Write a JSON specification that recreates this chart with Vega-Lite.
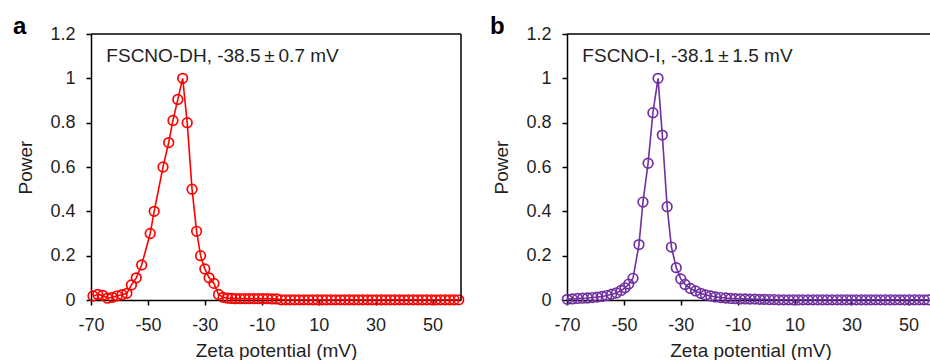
{
  "$schema": "https://vega.github.io/schema/vega-lite/v6.json",
  "background": "white",
  "padding": {"left": 12, "top": 15, "right": 0, "bottom": 0},
  "spacing": 22,
  "config": {
    "font": "Liberation Sans",
    "view": {"stroke": null},
    "axis": {
      "grid": false,
      "domainColor": "black",
      "domainWidth": 1.5,
      "tickColor": "black",
      "tickWidth": 1.5,
      "tickSize": 5,
      "labelFont": "Liberation Sans",
      "labelFontSize": 18,
      "labelColor": "#1f1f1f",
      "labelPadding": 11,
      "labelFlush": false,
      "labelOverlap": false,
      "labelExpr": "replace(datum.label, '\u2212', '-')",
      "titleFont": "Liberation Sans",
      "titleFontSize": 19,
      "titleFontWeight": "normal",
      "titleColor": "#1f1f1f"
    },
    "axisX": {"titlePadding": 7},
    "axisY": {"titlePadding": 14}
  },
  "datasets": {
    "a": [
      {"zeta": -69.3, "power": 0.018}, {"zeta": -67.6, "power": 0.025}, {"zeta": -65.9, "power": 0.021},
      {"zeta": -64.2, "power": 0.008}, {"zeta": -62.5, "power": 0.012}, {"zeta": -60.8, "power": 0.019},
      {"zeta": -59.1, "power": 0.024}, {"zeta": -57.4, "power": 0.03}, {"zeta": -55.8, "power": 0.068},
      {"zeta": -54.1, "power": 0.1}, {"zeta": -52.2, "power": 0.158}, {"zeta": -49.2, "power": 0.3},
      {"zeta": -47.8, "power": 0.4}, {"zeta": -44.7, "power": 0.6}, {"zeta": -42.7, "power": 0.71},
      {"zeta": -41.2, "power": 0.81}, {"zeta": -39.5, "power": 0.905}, {"zeta": -37.8, "power": 1.0},
      {"zeta": -36.2, "power": 0.8}, {"zeta": -34.5, "power": 0.5}, {"zeta": -32.9, "power": 0.31},
      {"zeta": -31.5, "power": 0.2}, {"zeta": -30.0, "power": 0.14}, {"zeta": -28.5, "power": 0.1},
      {"zeta": -26.8, "power": 0.075}, {"zeta": -25.2, "power": 0.025}, {"zeta": -23.6, "power": 0.012},
      {"zeta": -22.0, "power": 0.008}, {"zeta": -20.6, "power": 0.007}, {"zeta": -19.2, "power": 0.006},
      {"zeta": -17.6, "power": 0.006}, {"zeta": -16.0, "power": 0.006}, {"zeta": -14.4, "power": 0.006},
      {"zeta": -12.8, "power": 0.006}, {"zeta": -11.2, "power": 0.006}, {"zeta": -9.6, "power": 0.006},
      {"zeta": -8.0, "power": 0.006}, {"zeta": -6.4, "power": 0.005}, {"zeta": -4.8, "power": 0.005},
      {"zeta": -3.2, "power": 0.001}, {"zeta": -1.6, "power": 0.001}, {"zeta": 0.0, "power": 0.001},
      {"zeta": 1.6, "power": 0.001}, {"zeta": 3.2, "power": 0.001}, {"zeta": 4.8, "power": 0.001},
      {"zeta": 6.4, "power": 0.001}, {"zeta": 8.0, "power": 0.001}, {"zeta": 9.6, "power": 0.001},
      {"zeta": 11.2, "power": 0.001}, {"zeta": 12.8, "power": 0.001}, {"zeta": 14.4, "power": 0.001},
      {"zeta": 16.0, "power": 0.001}, {"zeta": 17.6, "power": 0.001}, {"zeta": 19.2, "power": 0.001},
      {"zeta": 20.8, "power": 0.001}, {"zeta": 22.4, "power": 0.001}, {"zeta": 24.0, "power": 0.001},
      {"zeta": 25.6, "power": 0.001}, {"zeta": 27.2, "power": 0.001}, {"zeta": 28.8, "power": 0.001},
      {"zeta": 30.4, "power": 0.001}, {"zeta": 32.0, "power": 0.001}, {"zeta": 33.6, "power": 0.001},
      {"zeta": 35.2, "power": 0.001}, {"zeta": 36.8, "power": 0.001}, {"zeta": 38.4, "power": 0.001},
      {"zeta": 40.0, "power": 0.001}, {"zeta": 41.6, "power": 0.001}, {"zeta": 43.2, "power": 0.001},
      {"zeta": 44.8, "power": 0.001}, {"zeta": 46.4, "power": 0.001}, {"zeta": 48.0, "power": 0.001},
      {"zeta": 49.6, "power": 0.001}, {"zeta": 51.2, "power": 0.001}, {"zeta": 52.8, "power": 0.001},
      {"zeta": 54.4, "power": 0.001}, {"zeta": 56.0, "power": 0.001}, {"zeta": 57.6, "power": 0.001},
      {"zeta": 59.2, "power": 0.001}
    ],
    "b": [
      {"zeta": -69.9, "power": 0.003}, {"zeta": -68.1, "power": 0.005}, {"zeta": -66.3, "power": 0.007},
      {"zeta": -64.5, "power": 0.008}, {"zeta": -62.8, "power": 0.009}, {"zeta": -61.1, "power": 0.011},
      {"zeta": -59.4, "power": 0.013}, {"zeta": -57.7, "power": 0.016}, {"zeta": -56.0, "power": 0.02},
      {"zeta": -54.3, "power": 0.026}, {"zeta": -52.6, "power": 0.032}, {"zeta": -51.0, "power": 0.043},
      {"zeta": -49.6, "power": 0.055}, {"zeta": -48.3, "power": 0.072}, {"zeta": -46.8, "power": 0.098},
      {"zeta": -44.7, "power": 0.25}, {"zeta": -43.3, "power": 0.442}, {"zeta": -41.5, "power": 0.617},
      {"zeta": -39.8, "power": 0.845}, {"zeta": -38.0, "power": 1.0}, {"zeta": -36.5, "power": 0.744},
      {"zeta": -34.8, "power": 0.421}, {"zeta": -33.3, "power": 0.239}, {"zeta": -31.6, "power": 0.146},
      {"zeta": -30.0, "power": 0.095}, {"zeta": -28.5, "power": 0.07}, {"zeta": -26.6, "power": 0.052},
      {"zeta": -24.8, "power": 0.041}, {"zeta": -23.0, "power": 0.03}, {"zeta": -21.3, "power": 0.023},
      {"zeta": -19.5, "power": 0.018}, {"zeta": -17.8, "power": 0.014}, {"zeta": -16.0, "power": 0.011},
      {"zeta": -14.2, "power": 0.009}, {"zeta": -12.5, "power": 0.007}, {"zeta": -10.8, "power": 0.006},
      {"zeta": -9.1, "power": 0.005}, {"zeta": -7.4, "power": 0.005}, {"zeta": -5.7, "power": 0.004},
      {"zeta": -4.0, "power": 0.004}, {"zeta": -2.3, "power": 0.003}, {"zeta": -0.6, "power": 0.003},
      {"zeta": 1.1, "power": 0.002}, {"zeta": 2.8, "power": 0.002}, {"zeta": 4.5, "power": 0.001},
      {"zeta": 6.2, "power": 0.001}, {"zeta": 7.9, "power": 0.001}, {"zeta": 9.6, "power": 0.001},
      {"zeta": 11.3, "power": 0.001}, {"zeta": 13.0, "power": 0.001}, {"zeta": 14.7, "power": 0.001},
      {"zeta": 16.4, "power": 0.001}, {"zeta": 18.1, "power": 0.001}, {"zeta": 19.8, "power": 0.001},
      {"zeta": 21.5, "power": 0.001}, {"zeta": 23.2, "power": 0.001}, {"zeta": 24.9, "power": 0.001},
      {"zeta": 26.6, "power": 0.001}, {"zeta": 28.3, "power": 0.001}, {"zeta": 30.0, "power": 0.001},
      {"zeta": 31.7, "power": 0.001}, {"zeta": 33.4, "power": 0.001}, {"zeta": 35.1, "power": 0.001},
      {"zeta": 36.8, "power": 0.001}, {"zeta": 38.5, "power": 0.001}, {"zeta": 40.2, "power": 0.001},
      {"zeta": 41.9, "power": 0.001}, {"zeta": 43.6, "power": 0.001}, {"zeta": 45.3, "power": 0.001},
      {"zeta": 47.0, "power": 0.001}, {"zeta": 48.7, "power": 0.001}, {"zeta": 50.4, "power": 0.001},
      {"zeta": 52.1, "power": 0.001}, {"zeta": 53.8, "power": 0.001}, {"zeta": 55.5, "power": 0.001},
      {"zeta": 57.0, "power": 0.001}
    ]
  },
  "hconcat": [
    {
      "width": 370,
      "height": 266,
      "title": {"text": "a", "anchor": "start", "frame": "bounds", "fontSize": 24, "fontWeight": "bold", "color": "black", "dx": -4, "offset": -14},
      "layer": [
        {
          "data": {"name": "a"},
          "mark": {"type": "line", "color": "#FF0000", "strokeWidth": 1.6},
          "encoding": {
            "x": {"field": "zeta", "type": "quantitative", "scale": {"domain": [-70, 60], "nice": false, "zero": false},
                  "axis": {"values": [-70, -50, -30, -10, 10, 30, 50], "title": "Zeta potential (mV)"}},
            "y": {"field": "power", "type": "quantitative", "scale": {"domain": [0, 1.2], "nice": false},
                  "axis": {"values": [0, 0.2, 0.4, 0.6, 0.8, 1, 1.2], "format": ".1~f", "title": "Power"}}
          }
        },
        {
          "data": {"name": "a"},
          "mark": {"type": "point", "shape": "circle", "filled": false, "color": "#FF0000", "size": 92, "strokeWidth": 1.7, "opacity": 1},
          "encoding": {
            "x": {"field": "zeta", "type": "quantitative"},
            "y": {"field": "power", "type": "quantitative"}
          }
        },
        {
          "data": {"values": [{"edge": "top"}]},
          "mark": {"type": "rule", "color": "black", "strokeWidth": 1.5},
          "encoding": {"y": {"datum": 1.2}}
        },
        {
          "data": {"values": [{"edge": "right"}]},
          "mark": {"type": "rule", "color": "black", "strokeWidth": 1.5},
          "encoding": {"x": {"datum": 60}}
        },
        {
          "data": {"values": [{"label": "FSCNO-DH, -38.5\u2009±\u20090.7 mV"}]},
          "mark": {"type": "text", "align": "left", "baseline": "alphabetic", "fontSize": 19, "color": "#1f1f1f", "font": "Liberation Sans"},
          "encoding": {"x": {"datum": -64.6}, "y": {"datum": 1.075}, "text": {"field": "label"}}
        }
      ]
    },
    {
      "width": 367,
      "height": 266,
      "title": {"text": "b", "anchor": "start", "frame": "bounds", "fontSize": 24, "fontWeight": "bold", "color": "black", "dx": -3, "offset": -14},
      "layer": [
        {
          "data": {"name": "b"},
          "mark": {"type": "line", "color": "#7030A0", "strokeWidth": 1.6},
          "encoding": {
            "x": {"field": "zeta", "type": "quantitative", "scale": {"domain": [-70, 59], "nice": false, "zero": false},
                  "axis": {"values": [-70, -50, -30, -10, 10, 30, 50], "title": "Zeta potential (mV)"}},
            "y": {"field": "power", "type": "quantitative", "scale": {"domain": [0, 1.2], "nice": false},
                  "axis": {"values": [0, 0.2, 0.4, 0.6, 0.8, 1, 1.2], "format": ".1~f", "title": "Power"}}
          }
        },
        {
          "data": {"name": "b"},
          "mark": {"type": "point", "shape": "circle", "filled": false, "color": "#7030A0", "size": 92, "strokeWidth": 1.7, "opacity": 1},
          "encoding": {
            "x": {"field": "zeta", "type": "quantitative"},
            "y": {"field": "power", "type": "quantitative"}
          }
        },
        {
          "data": {"values": [{"edge": "top"}]},
          "mark": {"type": "rule", "color": "black", "strokeWidth": 1.5},
          "encoding": {"y": {"datum": 1.2}}
        },
        {
          "data": {"values": [{"label": "FSCNO-I, -38.1\u2009±\u20091.5 mV"}]},
          "mark": {"type": "text", "align": "left", "baseline": "alphabetic", "fontSize": 19, "color": "#1f1f1f", "font": "Liberation Sans"},
          "encoding": {"x": {"datum": -64.6}, "y": {"datum": 1.075}, "text": {"field": "label"}}
        }
      ]
    }
  ]
}
